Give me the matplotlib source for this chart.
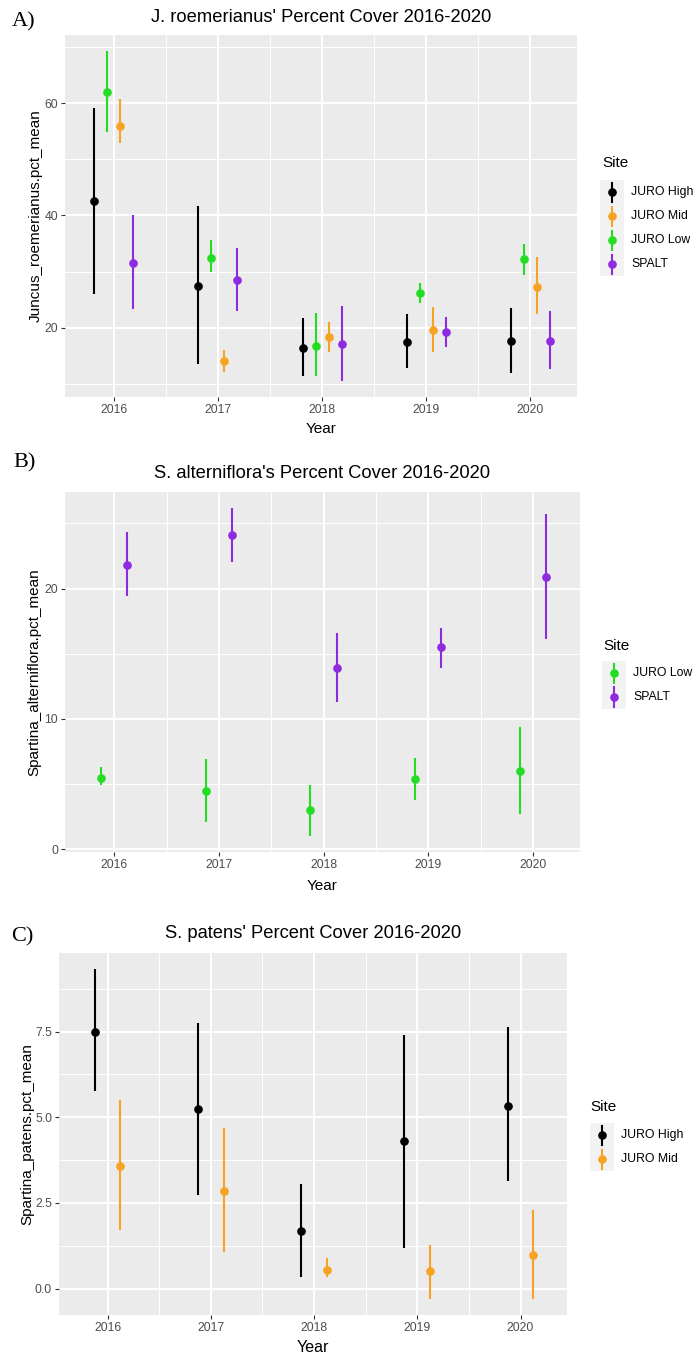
import matplotlib
matplotlib.use("Agg")
import matplotlib.pyplot as plt
from matplotlib.patches import Rectangle
from matplotlib.lines import Line2D

plt.rcParams['font.family'] = ['Liberation Sans', 'DejaVu Sans']

W, H = 696, 1357

years = [2016, 2017, 2018, 2019, 2020]

# A) J. roemerianus - mean and interval per site
a_high = [42.6, 27.4, 16.4, 17.5, 17.7]
a_high_lo = [26.1, 13.5, 11.4, 12.8, 12.0]
a_high_hi = [59.2, 41.7, 21.8, 22.5, 23.6]
a_low = [62.0, 32.5, 16.8, 26.2, 32.3]
a_low_lo = [54.8, 30.0, 11.4, 24.5, 29.4]
a_low_hi = [69.2, 35.7, 22.7, 28.0, 35.0]
a_mid = [55.9, 14.1, 18.3, 19.7, 27.3]
a_mid_lo = [52.8, 12.2, 15.7, 15.7, 22.5]
a_mid_hi = [60.8, 16.0, 21.1, 23.7, 32.6]
a_spalt = [31.6, 28.6, 17.1, 19.3, 17.7]
a_spalt_lo = [23.3, 23.0, 10.6, 16.6, 12.6]
a_spalt_hi = [40.0, 34.2, 23.9, 22.0, 23.0]

# B) S. alterniflora
b_low = [5.5, 4.5, 3.0, 5.4, 6.0]
b_low_lo = [4.9, 2.1, 1.0, 3.8, 2.7]
b_low_hi = [6.3, 6.9, 4.9, 7.0, 9.4]
b_spalt = [21.8, 24.1, 13.9, 15.5, 20.9]
b_spalt_lo = [19.4, 22.0, 11.3, 13.9, 16.1]
b_spalt_hi = [24.3, 26.2, 16.6, 17.0, 25.7]

# C) S. patens
c_high = [7.5, 5.25, 1.67, 4.3, 5.33]
c_high_lo = [5.75, 2.73, 0.34, 1.17, 3.15]
c_high_hi = [9.31, 7.74, 3.05, 7.41, 7.62]
c_mid = [3.58, 2.86, 0.55, 0.50, 0.98]
c_mid_lo = [1.70, 1.06, 0.33, -0.29, -0.29]
c_mid_hi = [5.49, 4.69, 0.89, 1.27, 2.28]

colors = {
    "JURO High": "black",
    "JURO Mid": "#F6A321",
    "JURO Low": "#22DD22",
    "SPALT": "#8E2BE0",
}


def fx(x):
    return x / W


def fy(y):
    return 1 - y / H


def draw_panel(ax, series, ylim, yticks, yminor, yfmt):
    # series in dodge order (alphabetical like ggplot factor levels)
    n = len(series)
    for k, (site, m, lo, hi) in enumerate(series):
        off = (k - (n - 1) / 2) * 0.5 / n
        xs = [yr + off for yr in years]
        err = [[mi - l for mi, l in zip(m, lo)], [h - mi for mi, h in zip(m, hi)]]
        ax.errorbar(xs, m, yerr=err, fmt='o', color=colors[site], ms=5.2,
                    elinewidth=1.5, capsize=0, zorder=3)
    ax.set_facecolor('#EBEBEB')
    for s in ax.spines.values():
        s.set_visible(False)
    ax.set_xlim(2015.53, 2020.45)
    ax.set_ylim(*ylim)
    ax.set_xticks(years)
    ax.set_xticklabels([str(y) for y in years])
    ax.set_xticks([2016.5, 2017.5, 2018.5, 2019.5], minor=True)
    ax.set_yticks(yticks)
    ax.set_yticklabels([yfmt.format(v) for v in yticks])
    ax.set_yticks(yminor, minor=True)
    ax.grid(which='major', color='white', lw=1.4)
    ax.grid(which='minor', color='white', lw=0.7)
    ax.set_axisbelow(True)
    ax.tick_params(which='major', length=2.75, width=0.8, color='#333333',
                   labelsize=8.8, labelcolor='#4D4D4D', pad=2.2)
    ax.tick_params(which='minor', length=0)


def draw_legend(fig, title_xy, key_x, rows_y, sites):
    fig.text(fx(title_xy[0]), fy(title_xy[1]), "Site", fontsize=11,
             ha='left', va='center')
    for site, ry in zip(sites, rows_y):
        fig.add_artist(Rectangle((fx(key_x - 12), fy(ry + 12)), 24 / W, 24 / H,
                                 transform=fig.transFigure, facecolor='#F2F2F2',
                                 edgecolor='none'))
        fig.add_artist(Line2D([fx(key_x), fx(key_x)], [fy(ry + 9.5), fy(ry - 9.5)],
                              transform=fig.transFigure, color=colors[site], lw=1.5))
        fig.add_artist(Line2D([fx(key_x)], [fy(ry)], transform=fig.transFigure,
                              marker='o', ms=5.2, color=colors[site]))
        fig.text(fx(key_x + 19), fy(ry), site, fontsize=8.8, ha='left', va='center')


fig = plt.figure(figsize=(W / 100, H / 100), dpi=100)

# ---- A
ax_a = fig.add_axes([fx(65), fy(397), 512 / W, 362 / H])
draw_panel(ax_a, [("JURO High", a_high, a_high_lo, a_high_hi),
                  ("JURO Low", a_low, a_low_lo, a_low_hi),
                  ("JURO Mid", a_mid, a_mid_lo, a_mid_hi),
                  ("SPALT", a_spalt, a_spalt_lo, a_spalt_hi)],
           (7.7, 72.1), [20, 40, 60], [10, 30, 50, 70], "{:.0f}")
fig.text(fx(12), fy(22), "A)", family=['Liberation Serif', 'DejaVu Serif'],
         fontsize=16, ha='left', va='center')
fig.text(fx(321), fy(17), "J. roemerianus' Percent Cover 2016-2020",
         fontsize=13.2, ha='center', va='center')
fig.text(fx(36), fy(216), "Juncus_roemerianus.pct_mean", fontsize=11,
         rotation=90, ha='center', va='center')
fig.text(fx(321), fy(429), "Year", fontsize=11, ha='center', va='center')
draw_legend(fig, (602, 163), 612, [192, 216, 240, 264],
            ["JURO High", "JURO Mid", "JURO Low", "SPALT"])

# ---- B
ax_b = fig.add_axes([fx(65), fy(852), 515 / W, 360 / H])
draw_panel(ax_b, [("JURO Low", b_low, b_low_lo, b_low_hi),
                  ("SPALT", b_spalt, b_spalt_lo, b_spalt_hi)],
           (-0.2, 27.4), [0, 10, 20], [5, 15, 25], "{:.0f}")
fig.text(fx(13), fy(463), "B)", family=['Liberation Serif', 'DejaVu Serif'],
         fontsize=16, ha='left', va='center')
fig.text(fx(322), fy(473), "S. alterniflora's Percent Cover 2016-2020",
         fontsize=13.2, ha='center', va='center')
fig.text(fx(34), fy(672), "Spartina_alterniflora.pct_mean", fontsize=11,
         rotation=90, ha='center', va='center')
fig.text(fx(322), fy(886), "Year", fontsize=11, ha='center', va='center')
draw_legend(fig, (603, 646), 614, [673, 697], ["JURO Low", "SPALT"])

# ---- C
ax_c = fig.add_axes([fx(59), fy(1315), 508 / W, 362 / H])
draw_panel(ax_c, [("JURO High", c_high, c_high_lo, c_high_hi),
                  ("JURO Mid", c_mid, c_mid_lo, c_mid_hi)],
           (-0.77, 9.79), [0.0, 2.5, 5.0, 7.5], [1.25, 3.75, 6.25, 8.75], "{:.1f}")
fig.text(fx(11), fy(937), "C)", family=['Liberation Serif', 'DejaVu Serif'],
         fontsize=16, ha='left', va='center')
fig.text(fx(313), fy(933), "S. patens' Percent Cover 2016-2020",
         fontsize=13.2, ha='center', va='center')
fig.text(fx(27), fy(1134), "Spartina_patens.pct_mean", fontsize=11,
         rotation=90, ha='center', va='center')
fig.text(fx(313), fy(1348), "Year", fontsize=11.5, ha='center', va='center')
draw_legend(fig, (590, 1107), 602, [1135, 1159], ["JURO High", "JURO Mid"])

fig.savefig("out.png", dpi=100)
